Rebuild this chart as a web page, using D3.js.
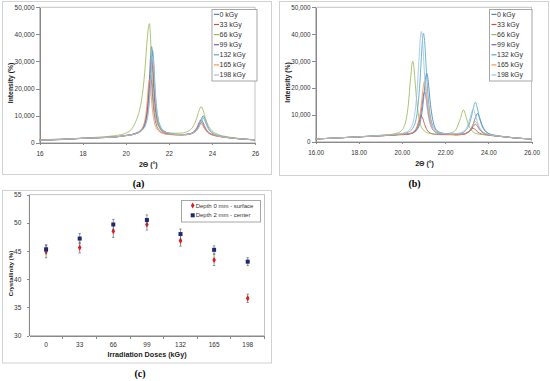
<!DOCTYPE html>
<meta charset="utf-8">
<style>

html, body {
  margin: 0;
  padding: 0;
  background: #fff;
}

svg {
  display: block;
  font-family: 'Liberation Sans', Arial, sans-serif;
}

.frame {
  fill: none;
  stroke: #d2d2d2;
}

.plot-border {
  fill: none;
  stroke: #c4c4c4;
}

.axis path, .axis line {
  stroke: #8a8a8a;
  shape-rendering: crispEdges;
}

.axis text {
  fill: #333;
}

.title {
  font-weight: bold;
  fill: #1a1a1a;
}

.panel-label {
  font-family: 'Liberation Serif', serif;
  font-weight: bold;
  font-size: 10px;
  fill: #000;
}

.legend rect {
  fill: #fff;
  stroke: #a6a6a6;
}

.legend text {
  fill: #333;
}

.curve {
  fill: none;
  stroke-width: 1;
  stroke-opacity: 0.85;
  stroke-linejoin: round;
}

</style>
<svg id="figure" width="550" height="381"></svg>
<script src="https://d3js.org/d3.v7.min.js"></script>
<script>

// ---- data ----
var doses = ['0 kGy', '33 kGy', '66 kGy', '99 kGy', '132 kGy', '165 kGy', '198 kGy'];
var doseColors = ['#4f81bd', '#c0504d', '#9bbb59', '#8064a2', '#4bacc6', '#f79646', '#a4bfe0'];

var intensityTicks = [0, 10000, 20000, 30000, 40000, 50000];
var angleTicks = [16, 18, 20, 22, 24, 26];

// (a) diffractograms
var angleA = [16, 17, 18, 19, 19.5, 20, 20.3, 20.5, 20.7, 20.8, 20.9, 20.95, 21, 21.05, 21.1,
  21.15, 21.2, 21.25, 21.3, 21.35, 21.4, 21.5, 21.6, 21.8, 22, 22.3, 22.6, 22.9, 23.1, 23.3,
  23.4, 23.5, 23.6, 23.7, 23.8, 24, 24.3, 24.7, 25.2, 26];
var a0 = [900, 1200, 1600, 1900, 2100, 2700, 3090, 3660, 4650, 5640, 7780, 9430, 12400, 16690, 23290,
  31540, 35500, 31540, 23290, 16690, 12400, 7780, 5640, 3990, 3470, 3085, 3000, 3170, 3610, 4830,
  6250, 8500, 9950, 8500, 6150, 3770, 2620, 2000, 1520, 1050];
var a33 = [1100, 1300, 1600, 1900, 2100, 2640, 2990, 3480, 4320, 5160, 6980, 8380, 10900, 14540, 20140,
  27140, 30500, 27140, 20140, 14540, 10900, 6980, 5160, 3760, 3320, 2980, 2890, 3080, 3550, 5000,
  6500, 7500, 6430, 4900, 3930, 2960, 2360, 1890, 1480, 1030];
var a66 = [800, 1200, 1700, 2200, 2600, 3500, 5300, 8500, 14120, 19500, 27800, 33200, 38200, 42300, 44000,
  39000, 28600, 20300, 14950, 11200, 9140, 6440, 5200, 3950, 3670, 3490, 3560, 4290, 5620, 9130,
  11800, 13300, 11770, 9030, 6840, 4440, 3030, 2210, 1640, 1110];
var a99 = [850, 1150, 1600, 1900, 2100, 2590, 2920, 3400, 4300, 5200, 7230, 9250, 12180, 16680, 22300,
  25000, 22300, 16680, 12180, 9250, 7230, 5200, 4300, 3400, 3120, 2980, 2920, 3180, 3750, 5530,
  7350, 8500, 7270, 5430, 4260, 3110, 2420, 1920, 1490, 1030];
var a132 = [950, 1250, 1650, 1950, 2150, 2650, 3000, 3450, 4230, 5020, 6280, 7540, 9120, 11950, 16050,
  22350, 30220, 34000, 30220, 22350, 16050, 9120, 6280, 4230, 3550, 3070, 2970, 3100, 3480, 4530,
  5780, 7770, 9000, 7670, 5680, 3580, 2550, 1980, 1510, 1040];
var a165 = [1000, 1300, 1650, 1950, 2150, 2590, 2940, 3440, 4480, 5830, 8740, 11440, 15600, 20800, 23300,
  20800, 15600, 11440, 8740, 6870, 5830, 4480, 3850, 3230, 3020, 2830, 2790, 2985, 3420, 4750,
  6100, 7000, 6050, 4680, 3790, 2900, 2330, 1875, 1470, 1020];
var a198 = [900, 1200, 1600, 1900, 2100, 2630, 2960, 3390, 4120, 4860, 6040, 7220, 8700, 11350, 15190,
  21090, 28460, 32000, 28460, 21090, 15190, 8700, 6040, 4120, 3500, 3050, 2970, 3130, 3540, 4680,
  5930, 8070, 9500, 8070, 5930, 3680, 2590, 1990, 1520, 1040];

// (b) diffractograms
var angleB = [16, 17, 18, 19, 19.5, 19.8, 20, 20.2, 20.3, 20.4, 20.5, 20.55, 20.6, 20.7, 20.8,
  20.85, 20.9, 20.95, 21, 21.05, 21.1, 21.15, 21.2, 21.25, 21.3, 21.4, 21.5, 21.7, 22, 22.3,
  22.5, 22.7, 22.85, 23, 23.1, 23.2, 23.3, 23.4, 23.5, 23.6, 23.7, 23.8, 24, 24.3, 24.7, 25.2, 26];
var b0 = [1000, 1400, 1800, 2200, 2400, 2650, 2710, 2800, 2890, 3050, 3280, 3420, 3650, 4460, 5950,
  7330, 9400, 12160, 15610, 19980, 23890, 25500, 23890, 19980, 15610, 9400, 5950, 3650, 2950, 2810,
  2700, 2770, 2935, 3280, 3840, 4800, 6490, 8900, 10500, 8880, 6450, 4750, 3110, 2360, 1900, 1440, 1010];
var b33 = [1000, 1400, 1800, 2200, 2400, 2570, 2605, 2700, 2780, 2955, 3270, 3550, 3970, 5440, 7820,
  9010, 9500, 9010, 7820, 6490, 5440, 4600, 3970, 3550, 3270, 2955, 2780, 2640, 2610, 2600,
  2520, 2600, 2760, 3170, 3720, 4500, 5000, 4480, 3700, 3150, 2840, 2660, 2420, 2150, 1820, 1410, 1000];
var b66 = [1000, 1400, 1850, 2340, 2730, 3270, 4290, 8280, 14050, 23400, 30000, 28080, 23400, 14050, 8280,
  6630, 5530, 4840, 4290, 3880, 3600, 3435, 3270, 3190, 3050, 2910, 2830, 2840, 2900, 3330,
  4520, 8460, 11800, 8420, 5970, 4470, 3620, 3150, 2920, 2760, 2660, 2600, 2430, 2175, 1840, 1420, 1010];
var b99 = [1000, 1400, 1800, 2200, 2400, 2610, 2680, 2770, 2880, 3040, 3300, 3540, 3860, 4900, 7300,
  9220, 11620, 14660, 17380, 18500, 17380, 14660, 11620, 9220, 7300, 4900, 3860, 3040, 2745, 2670,
  2580, 2645, 2780, 3140, 3620, 4470, 5700, 6500, 5680, 4450, 3600, 3100, 2570, 2200, 1845, 1420, 1000];
var b132 = [1000, 1400, 1800, 2310, 2590, 2800, 2950, 3260, 3560, 4010, 4960, 5710, 6660, 10440, 18380,
  24050, 31230, 37650, 40300, 37650, 31230, 24050, 18380, 13840, 10440, 6660, 4960, 3560, 3060, 2940,
  2890, 3100, 3510, 4600, 6070, 8650, 12340, 14700, 12240, 8550, 5970, 4490, 3100, 2400, 1920, 1460, 1020];
var b165 = [1000, 1400, 1800, 2200, 2400, 2640, 2720, 2840, 2980, 3180, 3500, 3800, 4200, 5500, 8500,
  10900, 13900, 17700, 21100, 22500, 21100, 17700, 13900, 10900, 8500, 5500, 4200, 3180, 2805, 2715,
  2620, 2705, 2870, 3290, 3880, 4950, 6480, 7500, 6460, 4950, 3880, 3270, 2630, 2220, 1855, 1420, 1000];
var b198 = [1000, 1400, 1840, 2335, 2630, 2885, 3080, 3580, 4040, 5000, 6740, 8280, 10590, 18670, 31760,
  38300, 41000, 38300, 31760, 24450, 18670, 14050, 10590, 8280, 6740, 5000, 4040, 3270, 2980, 2900,
  3000, 3270, 3880, 5290, 7300, 10080, 12000, 10080, 7200, 5190, 4030, 3360, 2730, 2270, 1870, 1430, 1010];

// (c) crystallinity
var doseLevels = ['0', '33', '66', '99', '132', '165', '198'];
var crystTicks = [30, 35, 40, 45, 50, 55];
var surface = [44.9, 45.6, 48.5, 49.7, 46.8, 43.4, 36.6];
var surfaceErr = [1.1, 0.95, 1.1, 1.0, 0.95, 1.0, 0.75];
var center = [45.3, 47.2, 49.7, 50.5, 48.0, 45.2, 43.1];
var centerErr = [0.8, 0.9, 0.9, 0.9, 0.9, 0.7, 0.7];

// ---- drawing ----
var svg = d3.select('#figure');

svg.append('rect')
  .attr('width', 550)
  .attr('height', 381)
  .attr('fill', '#fff');

function xrdPanel(box, angles, seriesList, fmt, tickFont) {
  var g = svg.append('g');

  g.append('rect')
    .attr('class', 'frame')
    .attr('x', box.fx + 0.5).attr('y', box.fy + 0.5)
    .attr('width', box.fw).attr('height', box.fh);

  var x = d3.scaleLinear().domain([16, 26]).range([box.l, box.r]);
  var y = d3.scaleLinear().domain([0, 50000]).range([box.b, box.t]);

  g.append('rect')
    .attr('class', 'plot-border')
    .attr('x', box.l).attr('y', box.t)
    .attr('width', box.r - box.l).attr('height', box.b - box.t);

  g.append('g')
    .attr('class', 'axis')
    .attr('transform', 'translate(0,' + box.b + ')')
    .call(d3.axisBottom(x).tickValues(angleTicks).tickFormat(fmt).tickSize(2).tickSizeOuter(0).tickPadding(7))
    .selectAll('text').style('font-size', tickFont + 'px');

  g.append('g')
    .attr('class', 'axis')
    .attr('transform', 'translate(' + box.l + ',0)')
    .call(d3.axisLeft(y).tickValues(intensityTicks).tickFormat(d3.format(',')).tickSize(3.5).tickSizeOuter(0).tickPadding(1.5))
    .selectAll('text').style('font-size', tickFont + 'px');

  var line = d3.line()
    .curve(d3.curveMonotoneX)
    .x(function (d) { return x(d[0]); })
    .y(function (d) { return y(d[1]); });

  g.selectAll('path.curve')
    .data(seriesList)
    .enter().append('path')
    .attr('class', 'curve')
    .attr('stroke', function (d, i) { return doseColors[i]; })
    .attr('d', function (d) {
      return line(angles.map(function (a, j) { return [a, d[j]]; }));
    });

  g.append('text')
    .attr('class', 'title')
    .attr('x', (box.l + box.r) / 2 + 1)
    .attr('y', box.b + 21.6 + 2.4)
    .attr('text-anchor', 'middle')
    .style('font-size', '7px')
    .text('2Θ (°)');

  g.append('text')
    .attr('class', 'title')
    .attr('transform', 'translate(' + (box.fx + 10.5) + ',' + ((box.t + box.b) / 2 + 8) + ') rotate(-90)')
    .attr('text-anchor', 'middle')
    .style('font-size', '6.8px')
    .text('Intensity (%)');

  var leg = g.append('g').attr('class', 'legend');
  leg.append('rect')
    .attr('x', box.lx).attr('y', 9.5)
    .attr('width', box.lw).attr('height', 71.5);

  var item = leg.selectAll('g.item')
    .data(doses)
    .enter().append('g')
    .attr('class', 'item')
    .attr('transform', function (d, i) { return 'translate(' + box.lx + ',' + (14.4 + i * 10.1) + ')'; });

  item.append('line')
    .attr('x1', 2).attr('x2', 7)
    .attr('stroke', function (d, i) { return doseColors[i]; })
    .attr('stroke-width', 1.2);

  item.append('text')
    .attr('x', 7.5)
    .attr('dy', '0.35em')
    .style('font-size', '7px')
    .text(function (d) { return d; });

  g.append('text')
    .attr('class', 'panel-label')
    .attr('x', box.px)
    .attr('y', 183)
    .attr('dy', '0.35em')
    .attr('text-anchor', 'middle')
    .text(box.label);
}

xrdPanel({fx: 2, fy: 1, fw: 269, fh: 173, l: 39.5, r: 255, t: 7.3, b: 142.7, lx: 212, lw: 45, px: 138.5, label: '(a)'},
  angleA, [a0, a33, a66, a99, a132, a165, a198], d3.format('d'), 6.5);

xrdPanel({fx: 279, fy: 1, fw: 269, fh: 174, l: 315.5, r: 531.5, t: 7.3, b: 141.7, lx: 489.5, lw: 42.5, px: 414.5, label: '(b)'},
  angleB, [b0, b33, b66, b99, b132, b165, b198], d3.format('.2f'), 6.3);

// (c) crystallinity vs dose
var gc = svg.append('g');
var plotC = {l: 29.3, r: 264.5, t: 194.6, b: 335.5};

gc.append('rect')
  .attr('class', 'frame')
  .attr('x', 2.5).attr('y', 190.5)
  .attr('width', 269).attr('height', 172.5);

var xc = d3.scaleBand().domain(doseLevels).range([plotC.l, plotC.r]);
var yc = d3.scaleLinear().domain([30, 55]).range([plotC.b, plotC.t]);

gc.append('rect')
  .attr('class', 'plot-border')
  .attr('x', plotC.l).attr('y', plotC.t)
  .attr('width', plotC.r - plotC.l).attr('height', plotC.b - plotC.t);

gc.append('g')
  .attr('class', 'axis')
  .attr('transform', 'translate(0,' + plotC.b + ')')
  .call(d3.axisBottom(xc).tickSize(0).tickSizeOuter(0).tickPadding(6.5))
  .selectAll('text').style('font-size', '6.5px');

gc.append('g')
  .attr('class', 'axis')
  .selectAll('line.cat-tick')
  .data(doseLevels)
  .enter().append('line')
  .attr('class', 'cat-tick')
  .attr('x1', function (d) { return xc(d) + xc.bandwidth(); })
  .attr('x2', function (d) { return xc(d) + xc.bandwidth(); })
  .attr('y1', plotC.b)
  .attr('y2', plotC.b + 3);

gc.append('g')
  .attr('class', 'axis')
  .attr('transform', 'translate(' + plotC.l + ',0)')
  .call(d3.axisLeft(yc).tickValues(crystTicks).tickSize(2.5).tickSizeOuter(0).tickPadding(5.5))
  .selectAll('text').style('font-size', '6.5px');

var groups = [
  {name: 'Depth 0 mm - surface', values: surface, errs: surfaceErr, color: '#e3191c', symbol: d3.symbolDiamond, size: 11},
  {name: 'Depth 2 mm - center', values: center, errs: centerErr, color: '#1b2a72', symbol: d3.symbolSquare, size: 16}
];

groups.forEach(function (grp) {
  var pts = gc.append('g');
  var bars = pts.selectAll('g.err')
    .data(doseLevels)
    .enter().append('g')
    .attr('class', 'err')
    .attr('stroke', '#555')
    .attr('stroke-width', 0.6);

  bars.append('line')
    .attr('x1', function (d) { return xc(d) + xc.bandwidth() / 2; })
    .attr('x2', function (d) { return xc(d) + xc.bandwidth() / 2; })
    .attr('y1', function (d, i) { return yc(grp.values[i] - grp.errs[i]); })
    .attr('y2', function (d, i) { return yc(grp.values[i] + grp.errs[i]); });

  [-1, 1].forEach(function (s) {
    bars.append('line')
      .attr('x1', function (d) { return xc(d) + xc.bandwidth() / 2 - 1.2; })
      .attr('x2', function (d) { return xc(d) + xc.bandwidth() / 2 + 1.2; })
      .attr('y1', function (d, i) { return yc(grp.values[i] + s * grp.errs[i]); })
      .attr('y2', function (d, i) { return yc(grp.values[i] + s * grp.errs[i]); });
  });

  pts.selectAll('path.mark')
    .data(doseLevels)
    .enter().append('path')
    .attr('class', 'mark')
    .attr('fill', grp.color)
    .attr('d', d3.symbol().type(grp.symbol).size(grp.size))
    .attr('transform', function (d, i) {
      return 'translate(' + (xc(d) + xc.bandwidth() / 2) + ',' + yc(grp.values[i]) + ')';
    });
});

gc.append('text')
  .attr('class', 'title')
  .attr('x', 147)
  .attr('y', 354.5)
  .attr('dy', '0.35em')
  .attr('text-anchor', 'middle')
  .style('font-size', '7.2px')
  .text('Irradiation Doses (kGy)');

gc.append('text')
  .attr('class', 'title')
  .attr('transform', 'translate(10.5,273.5) rotate(-90)')
  .attr('dy', '0.35em')
  .attr('text-anchor', 'middle')
  .style('font-size', '6px')
  .text('Crystallinity (%)');

var legC = gc.append('g').attr('class', 'legend');
legC.append('rect')
  .attr('x', 181.5).attr('y', 200.5)
  .attr('width', 79).attr('height', 21.5);

var legItem = legC.selectAll('g.item')
  .data(groups)
  .enter().append('g')
  .attr('class', 'item')
  .attr('transform', function (d, i) { return 'translate(192.7,' + (205.5 + i * 9.8) + ')'; });

legItem.append('path')
  .attr('fill', function (d) { return d.color; })
  .attr('d', function (d) { return d3.symbol().type(d.symbol).size(d.size)(); });

legItem.append('text')
  .attr('x', 3)
  .attr('dy', '0.35em')
  .style('font-size', '6px')
  .text(function (d) { return d.name; });

gc.append('text')
  .attr('class', 'panel-label')
  .attr('x', 140)
  .attr('y', 373)
  .attr('dy', '0.35em')
  .attr('text-anchor', 'middle')
  .text('(c)');

</script>
